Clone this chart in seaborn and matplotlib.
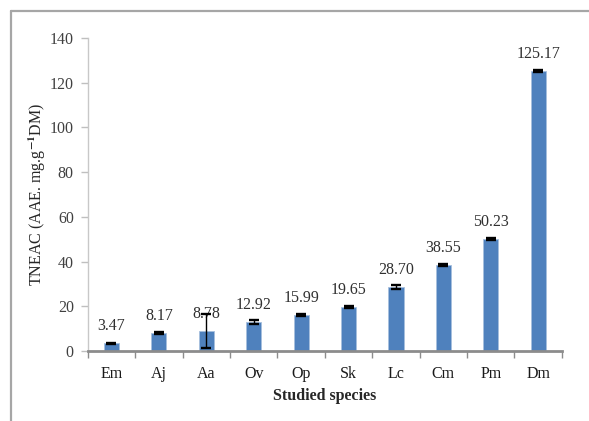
import matplotlib
matplotlib.use("Agg")
import matplotlib.pyplot as plt
from matplotlib.lines import Line2D
import seaborn as sns
import pandas as pd

# TNEAC per species (mean and error)
species = ["Em", "Aj", "Aa", "Ov", "Op", "Sk", "Lc", "Cm", "Pm", "Dm"]
tneac = [3.47, 8.17, 8.78, 12.92, 15.99, 19.65, 28.70, 38.55, 50.23, 125.17]
errors = [0.3, 0.5, 7.6, 0.8, 0.4, 0.6, 0.8, 0.4, 0.4, 0.4]
y_ticks = [0, 20, 40, 60, 80, 100, 120, 140]

df = pd.DataFrame({"species": species, "tneac": tneac})

sns.set_theme(style="white")
plt.rcParams["font.family"] = ["Liberation Serif", "DejaVu Serif"]
plt.rcParams["mathtext.fontset"] = "stix"

fig = plt.figure(figsize=(5.89, 4.21), dpi=100)
ax = fig.add_axes([0.149, 0.1663, 0.805, 0.7434])

sns.barplot(data=df, x="species", y="tneac", color="#4F81BD", saturation=1,
            width=0.32, edgecolor="#A7BFDE", linewidth=0.6, ax=ax, errorbar=None)

xs = list(range(len(species)))
ax.errorbar(xs, tneac, yerr=errors, fmt="none", ecolor="black",
            elinewidth=1.0, capsize=3.3, capthick=1.7, zorder=5)

for x, v in zip(xs, tneac):
    ax.annotate(f"{v:.2f}", xy=(x, v), xytext=(0, 12.2), textcoords="offset points",
                ha="center", va="center", fontsize=11.5, color="#303030")

ax.set_ylim(0, 140)
ax.set_yticks(y_ticks)
ax.set_xlim(-0.5, len(species) - 0.5)

# category boundary ticks on the x axis
ax.set_xticks([i - 0.5 for i in range(len(species) + 1)], minor=False)
ax.set_xticklabels([])
ax.set_xticks(xs, minor=True)
ax.set_xticklabels(species, minor=True)
ax.tick_params(axis="x", which="major", direction="out", length=5, width=1,
               color="#8C8C8C", bottom=True)
ax.tick_params(axis="x", which="minor", length=0, pad=11, labelsize=11.5,
               labelcolor="#1A1A1A")
ax.tick_params(axis="y", direction="out", length=5, width=1, color="#BFBFBF",
               left=True, pad=5, labelsize=11.5, labelcolor="#404040")

for side in ["top", "right"]:
    ax.spines[side].set_visible(False)
ax.spines["left"].set_color("#C8C8C8")
ax.spines["left"].set_linewidth(1.0)
ax.spines["bottom"].set_color("#8C8C8C")
ax.spines["bottom"].set_linewidth(2.0)

ax.set_xlabel("Studied species", fontsize=11.5, fontweight="bold", labelpad=4)
ax.set_ylabel(r"TNEAC (AAE. mg.g$^{\mathbf{-1}}$DM)", fontsize=11.5, labelpad=1)

# outer frame: top and left edges
fig.add_artist(Line2D([11 / 589, 1.0], [1 - 11 / 421, 1 - 11 / 421],
                      transform=fig.transFigure, color="#A6A6A6", linewidth=1.6))
fig.add_artist(Line2D([11 / 589, 11 / 589], [0.0, 1 - 11 / 421],
                      transform=fig.transFigure, color="#A6A6A6", linewidth=1.6))

fig.savefig("out.png", dpi=100, facecolor="white")
